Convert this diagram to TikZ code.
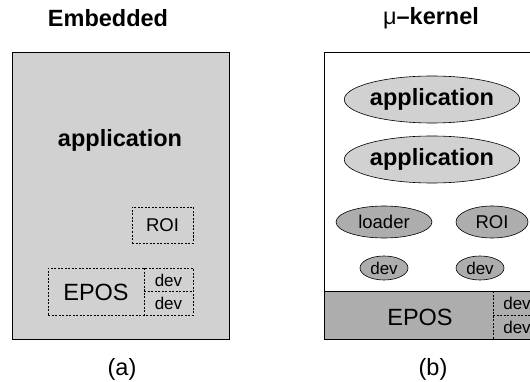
\documentclass[tikz,border=0pt]{standalone}
\usepackage{fontspec}
\setmainfont{Liberation Sans}
\usetikzlibrary{shapes.geometric, positioning}
\definecolor{lightfill}{gray}{0.82}
\definecolor{darkfill}{gray}{0.68}
\newcommand{\bigtxt}{\fontsize{23.5}{28}\selectfont}
\newcommand{\midtxt}{\fontsize{18.5}{22}\selectfont}
\newcommand{\smalltxt}{\fontsize{17}{20}\selectfont}
\tikzset{
  frame/.style={draw, line width=0.8pt, inner sep=0pt},
  dotline/.style={dash pattern=on 2pt off 1.5pt, line width=0.7pt},
  dotbox/.style={draw, dotline, inner sep=0pt},
  blob/.style={ellipse, draw, line width=0.6pt, inner sep=0pt, fill=darkfill},
}
\begin{document}
\begin{tikzpicture}[x=1pt,y=-1pt]
        \useasboundingbox (0,0) rectangle (530,382);
        %titoli
        \node (tembedded) at (108,18) {\bigtxt\bfseries Embedded};
        \node (tkernel) at (431,18) {\bigtxt μ\bfseries –kernel};
        %sistema embedded
        \node[frame, fill=lightfill, minimum width=217pt, minimum height=287pt] (embedded) at (120.5,195.5) {};
        \node (app) at (120,140) {\bigtxt\bfseries application};
        \node[dotbox, minimum width=61pt, minimum height=36pt] (roi) at (162.5,225) {\midtxt ROI};
        \node[dotbox, minimum width=145pt, minimum height=47pt] (eposbox) at (120.5,291.5) {};
        \node (epos) at (96,292) {\bigtxt EPOS};
        \coordinate (cut) at (144,268);
        \draw[dotline] (cut) -- (cut |- eposbox.south);
        \draw[dotline] (cut |- eposbox.east) -- (eposbox.east);
        \node (deva) at (168.5,280) {\smalltxt dev};
        \node (devb) at (168.5,303.5) {\smalltxt dev};
        \node (capa) at (122,369) {\bigtxt (a)};
        %sistema micro-kernel
        \node[frame, fill=white, minimum width=221pt, minimum height=287pt] (kernel) at (434.5,195.5) {};
        \node[frame, fill=darkfill, anchor=south west, minimum width=221pt, minimum height=48pt] (band) at (kernel.south west) {};
        \node (kepos) at (420,317) {\bigtxt EPOS};
        \coordinate (split) at (493,291);
        \draw[dotline] (split) -- (split |- band.south);
        \draw[dotline] (split |- band.east) -- (band.east);
        \node (kdeva) at (517,303) {\smalltxt dev};
        \node (kdevb) at (517,327) {\smalltxt dev};
        %processi
        \node[blob, fill=lightfill, minimum width=170pt, minimum height=47pt] (appa) at (432,99.5) {\bigtxt\bfseries application};
        \node[blob, fill=lightfill, minimum width=170pt, minimum height=47pt] (appb) at (432,159.5) {\bigtxt\bfseries application};
        \node[blob, minimum width=96pt, minimum height=32pt] (loader) at (384,222) {\midtxt loader};
        \node[blob, minimum width=72pt, minimum height=32pt] (kroi) at (492,222) {\midtxt ROI};
        \node[blob, minimum width=48pt, minimum height=24pt] (edeva) at (384,268) {\smalltxt dev};
        \node[blob, minimum width=48pt, minimum height=24pt] (edevb) at (480,268) {\smalltxt dev};
        \node (capb) at (433,369) {\bigtxt (b)};
\end{tikzpicture}
\end{document}
